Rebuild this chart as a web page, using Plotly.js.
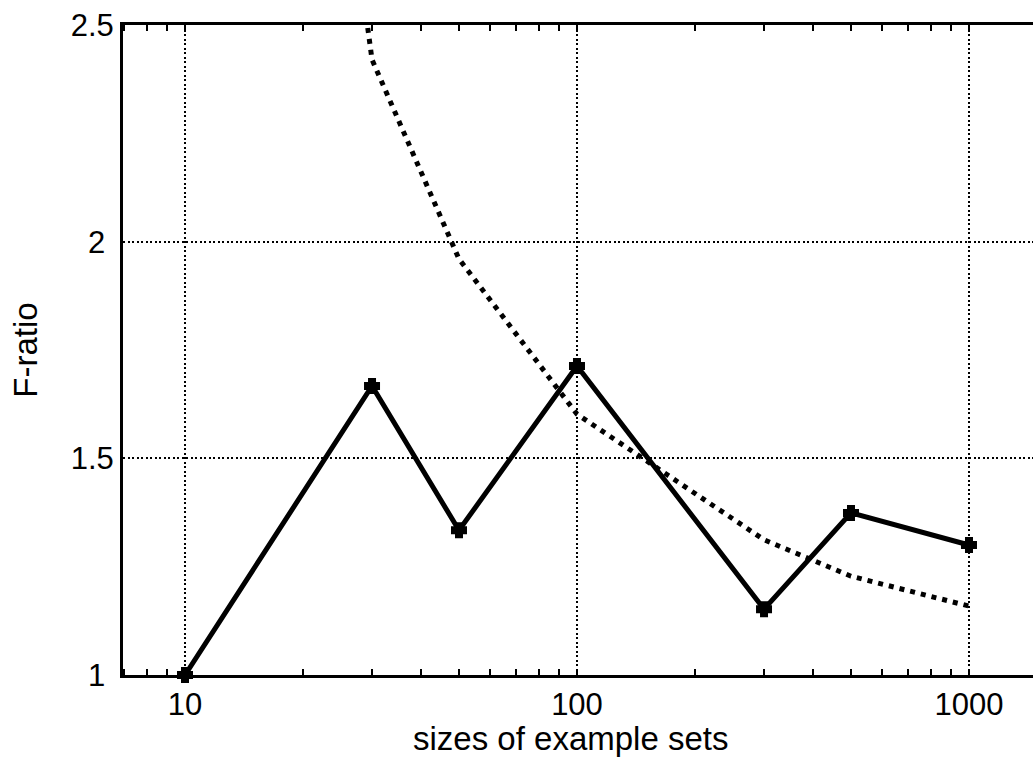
<!DOCTYPE html>
<html>
<head>
<meta charset="utf-8">
<script src="https://cdn.plot.ly/plotly-3.0.1.min.js"></script>
<style>html,body{margin:0;padding:0;background:#fff;overflow:hidden}</style>
</head>
<body>
<div id="chart" style="width:1033px;height:767px"></div>
<script>
// Observed F-ratio for each example-set size
const sizes = [10, 30, 50, 100, 300, 500, 1000];
const fRatio = [1.0, 1.667, 1.334, 1.713, 1.152, 1.374, 1.30];

// Dotted reference curve (critical value)
const critSizes = [20, 30, 50, 100, 300, 500, 1000];
const critValues = [3.6, 2.42, 1.96, 1.602, 1.312, 1.228, 1.159];

// Tick labels
const xTicks = [10, 100, 1000];
const xTickText = ["10", "100", "1000"];
const yTicks = [1, 1.5, 2, 2.5];
const yTickText = ["1\u00a0", "1.5", "2\u00a0", "2.5"];

const xTitle = "sizes of example sets";
const yTitle = "F-ratio";

const font = "Liberation Sans, Arial, Helvetica, sans-serif";

const traces = [
  {
    x: critSizes, y: critValues, type: "scatter", mode: "lines",
    line: {color: "#000", width: 5, dash: "5px,6px"},
    cliponaxis: true, hoverinfo: "skip"
  },
  {
    x: sizes, y: fRatio, type: "scatter", mode: "lines+markers",
    line: {color: "#000", width: 5},
    marker: {symbol: "cross", size: 10, color: "#000", line: {color: "#000", width: 4}},
    cliponaxis: false
  }
];

const layout = {
  width: 1033, height: 767,
  margin: {l: 123, r: 0, t: 25, b: 92},
  paper_bgcolor: "#fff", plot_bgcolor: "#fff",
  showlegend: false,
  font: {family: font, color: "#000", size: 31},
  xaxis: {
    type: "log",
    range: [0.84184, 3.1633],
    tickvals: xTicks, ticktext: xTickText,
    ticks: "inside", ticklen: 6, tickwidth: 2, tickcolor: "#000",
    showline: true, linewidth: 3, linecolor: "#000", mirror: "ticks",
    showgrid: true, gridcolor: "#000", gridwidth: 1.8, griddash: "2px,2.5px",
    minor: {dtick: "D1", ticks: "inside", ticklen: 6, tickwidth: 2, tickcolor: "#000", showgrid: false},
    tickfont: {size: 31, family: font, color: "#000"},
    zeroline: false
  },
  yaxis: {
    range: [1, 2.5],
    tickvals: yTicks, ticktext: yTickText,
    ticks: "",
    showline: true, linewidth: 3, linecolor: "#000", mirror: false,
    showgrid: true, gridcolor: "#000", gridwidth: 1.8, griddash: "2px,2.5px",
    tickfont: {size: 31, family: font, color: "#000"},
    zeroline: false
  },
  annotations: [
    {text: xTitle, xref: "paper", yref: "paper", x: 0.4923, y: -0.097,
     xanchor: "center", yanchor: "middle", showarrow: false,
     font: {size: 33, family: font, color: "#000"}},
    {text: yTitle, xref: "paper", yref: "paper", x: -0.108, y: 0.5,
     xanchor: "center", yanchor: "middle", showarrow: false, textangle: -90,
     font: {size: 33, family: font, color: "#000"}}
  ]
};

Plotly.newPlot("chart", traces, layout, {displayModeBar: false, staticPlot: true});
</script>
</body>
</html>
